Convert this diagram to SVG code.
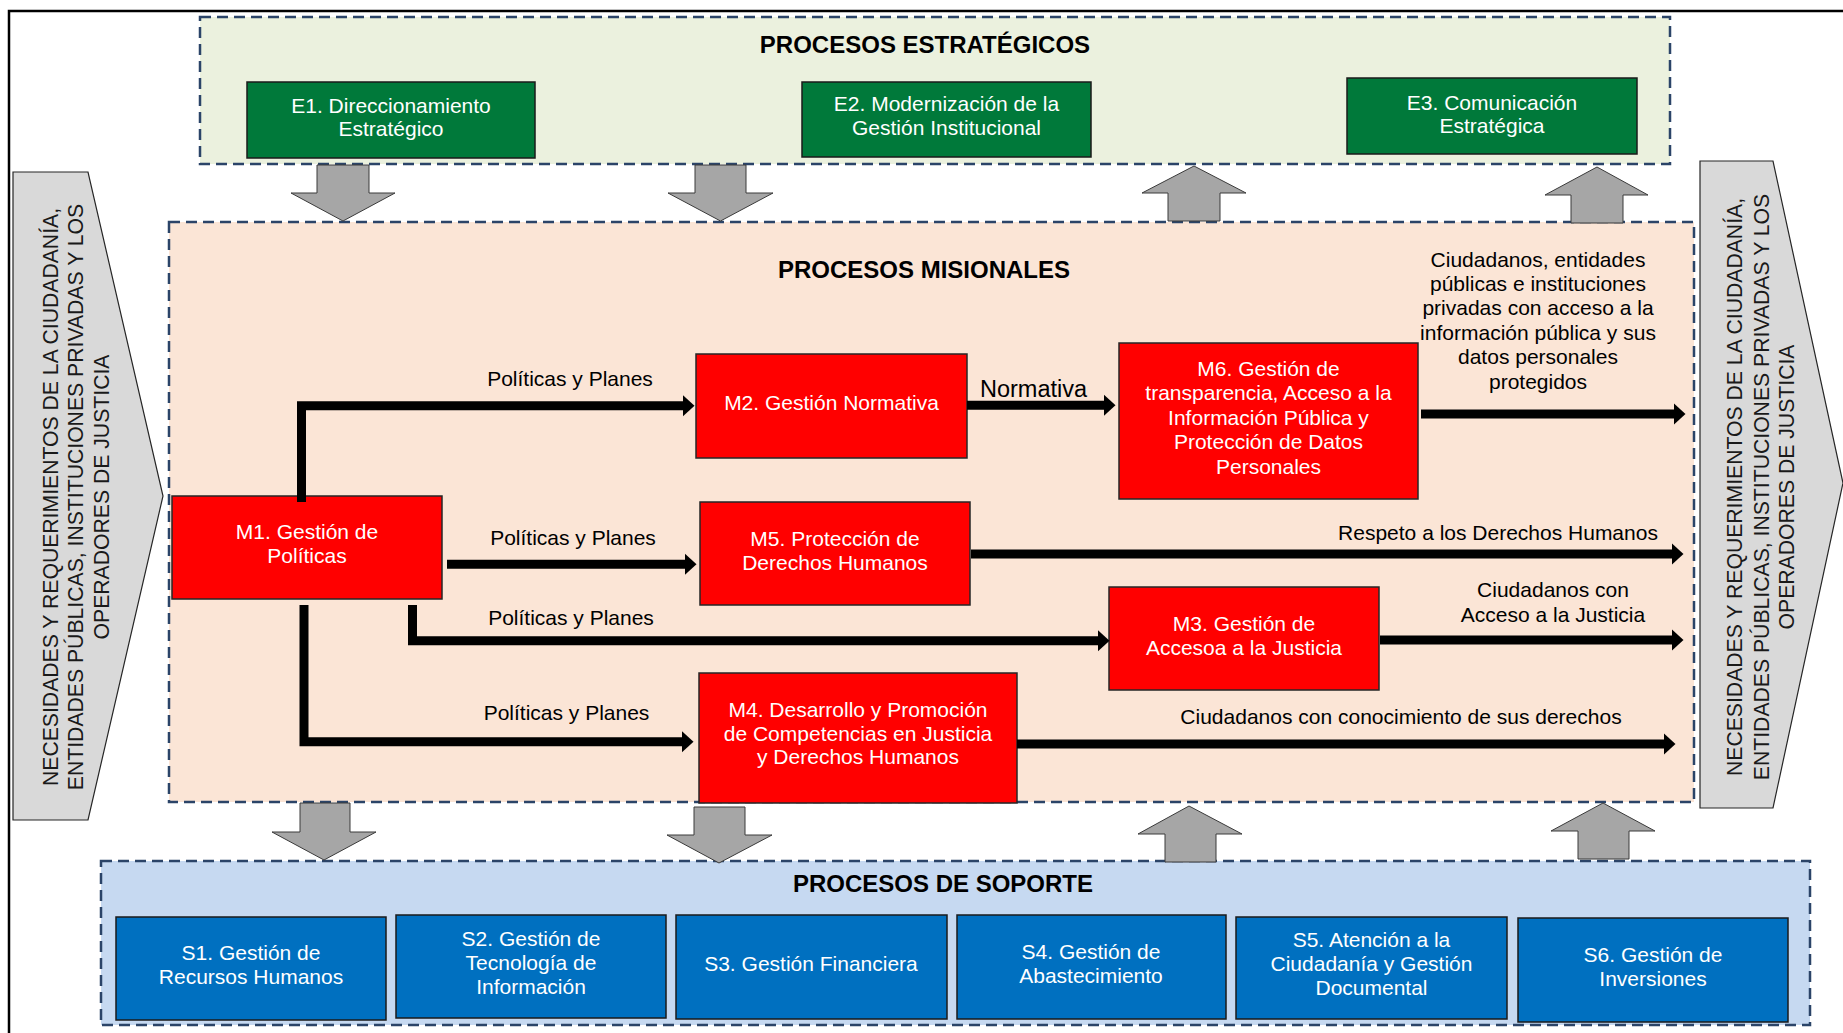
<svg xmlns="http://www.w3.org/2000/svg" width="1843" height="1033" viewBox="0 0 1843 1033">
  <style>
    text { font-family: "Liberation Sans", Arial, sans-serif; }
    .zone { stroke: #2B4468; stroke-width: 2.5; stroke-dasharray: 11 6; }
    .zone-e { fill: #EBF1DE; }
    .zone-m { fill: #FBE5D6; }
    .zone-s { fill: #C6D9F1; }
    .title { font-size: 24px; font-weight: bold; fill: #000; text-anchor: middle; }
    .box-e { fill: #00793A; stroke: #1A1A1A; stroke-width: 1.5; }
    .box-m { fill: #FF0000; stroke: #262626; stroke-width: 1.5; }
    .box-s { fill: #0070C0; stroke: #1A1A1A; stroke-width: 1.5; }
    .t-box { font-size: 21px; fill: #FFFFFF; text-anchor: middle; }
    .t-lbl { font-size: 21px; fill: #000; text-anchor: middle; }
    .t-side { font-size: 21.2px; fill: #1A1A1A; text-anchor: middle; }
    .blk { fill: #A6A6A6; stroke: #3A3A3A; stroke-width: 1; }
    .side { fill: #D9D9D9; stroke: #262626; stroke-width: 1.2; }
    .conn { fill: none; stroke: #000; stroke-width: 9; stroke-linejoin: miter; marker-end: url(#ah); }
    .frame { stroke: #000; stroke-width: 2.5; fill: none; }
  </style>
  <defs>
    <marker id="ah" markerUnits="userSpaceOnUse" markerWidth="12" markerHeight="22" viewBox="0 0 12 22" refX="0.5" refY="11" orient="auto">
      <path d="M0,0 L12,11 L0,22 Z" fill="#000"/>
    </marker>
  </defs>

  <rect width="1843" height="1033" fill="#FFFFFF"/>
  <!-- page frame (top and left rule) -->
  <path class="frame" d="M1843,11 H9 V1033"/>

  <!-- zones -->
  <g id="zone-estrategicos">
    <rect class="zone zone-e" x="200" y="17" width="1470" height="147"/>
    <text class="title" x="925" y="53">PROCESOS ESTRATÉGICOS</text>
  </g>
  <g id="zone-misionales">
    <rect class="zone zone-m" x="169" y="222" width="1525" height="580"/>
    <text class="title" x="924" y="278">PROCESOS MISIONALES</text>
  </g>
  <g id="zone-soporte">
    <rect class="zone zone-s" x="101" y="861" width="1709" height="164"/>
    <text class="title" x="943" y="892">PROCESOS DE SOPORTE</text>
  </g>

  <!-- side input / output arrows -->
  <g id="entrada">
    <polygon class="side" points="13,172 88,172 163,496 88,820 13,820"/>
    <text class="t-side" transform="translate(57.5,497) rotate(-90)">NECESIDADES Y REQUERIMIENTOS DE LA CIUDADANÍA,</text>
    <text class="t-side" transform="translate(83,497) rotate(-90)">ENTIDADES PÚBLICAS, INSTITUCIONES PRIVADAS Y LOS</text>
    <text class="t-side" transform="translate(108.5,497) rotate(-90)">OPERADORES DE JUSTICIA</text>
  </g>
  <g id="salida">
    <polygon class="side" points="1700,161 1773,161 1843,483 1773,808 1700,808"/>
    <text class="t-side" transform="translate(1742,487) rotate(-90)">NECESIDADES Y REQUERIMIENTOS DE LA CIUDADANÍA,</text>
    <text class="t-side" transform="translate(1768.5,487) rotate(-90)">ENTIDADES PÚBLICAS, INSTITUCIONES PRIVADAS Y LOS</text>
    <text class="t-side" transform="translate(1794,487) rotate(-90)">OPERADORES DE JUSTICIA</text>
  </g>

  <!-- block arrows between zones -->
  <g id="flechas-zonas">
    <polygon class="blk" points="317,165 369,165 369,193 395,193 343,221 291,193 317,193"/>
    <polygon class="blk" points="695,165 746,165 746,193 773,193 720.5,221 668,193 695,193"/>
    <polygon class="blk" points="1168,221 1220,221 1220,193 1246,193 1194,166 1142,193 1168,193"/>
    <polygon class="blk" points="1571,223 1623,223 1623,195 1648,195 1597,167 1545,195 1571,195"/>
    <polygon class="blk" points="300,803 350,803 350,832 376,832 324,860 272,832 300,832"/>
    <polygon class="blk" points="694,807 745,807 745,835 772,835 719,863 667,835 694,835"/>
    <polygon class="blk" points="1165,862 1216,862 1216,834 1242,834 1189,806 1138,834 1165,834"/>
    <polygon class="blk" points="1578,859 1629,859 1629,831 1655,831 1603,803 1551,831 1578,831"/>
  </g>

  <!-- strategic processes -->
  <g id="E1">
    <rect class="box-e" x="247" y="82" width="288" height="76"/>
    <text class="t-box" x="391" y="113">E1. Direccionamiento</text>
    <text class="t-box" x="391" y="136">Estratégico</text>
  </g>
  <g id="E2">
    <rect class="box-e" x="802" y="82" width="289" height="75"/>
    <text class="t-box" x="946.5" y="111">E2. Modernización de la</text>
    <text class="t-box" x="946.5" y="135">Gestión Institucional</text>
  </g>
  <g id="E3">
    <rect class="box-e" x="1347" y="78" width="290" height="76"/>
    <text class="t-box" x="1492" y="110">E3. Comunicación</text>
    <text class="t-box" x="1492" y="133">Estratégica</text>
  </g>

  <!-- missional processes -->
  <g id="M1">
    <rect class="box-m" x="172" y="496" width="270" height="103"/>
    <text class="t-box" x="307" y="539">M1. Gestión de</text>
    <text class="t-box" x="307" y="563">Políticas</text>
  </g>
  <g id="M2">
    <rect class="box-m" x="696" y="354" width="271" height="104"/>
    <text class="t-box" x="831.5" y="410">M2. Gestión Normativa</text>
  </g>
  <g id="M5">
    <rect class="box-m" x="700" y="502" width="270" height="103"/>
    <text class="t-box" x="835" y="546">M5. Protección de</text>
    <text class="t-box" x="835" y="570">Derechos Humanos</text>
  </g>
  <g id="M6">
    <rect class="box-m" x="1119" y="343" width="299" height="156"/>
    <text class="t-box" x="1268.5" y="375.7">M6. Gestión de</text>
    <text class="t-box" x="1268.5" y="400.4">transparencia, Acceso a la</text>
    <text class="t-box" x="1268.5" y="424.9">Información Pública y</text>
    <text class="t-box" x="1268.5" y="449.4">Protección de Datos</text>
    <text class="t-box" x="1268.5" y="473.8">Personales</text>
  </g>
  <g id="M3">
    <rect class="box-m" x="1109" y="587" width="270" height="103"/>
    <text class="t-box" x="1244" y="630.7">M3. Gestión de</text>
    <text class="t-box" x="1244" y="655">Accesoa a la Justicia</text>
  </g>
  <g id="M4">
    <rect class="box-m" x="699" y="673" width="318" height="130"/>
    <text class="t-box" x="858" y="716.7">M4. Desarrollo y Promoción</text>
    <text class="t-box" x="858" y="741.2">de Competencias en Justicia</text>
    <text class="t-box" x="858" y="764">y Derechos Humanos</text>
  </g>

  <!-- support processes -->
  <g id="S1">
    <rect class="box-s" x="116" y="917" width="270" height="103"/>
    <text class="t-box" x="251" y="960">S1. Gestión de</text>
    <text class="t-box" x="251" y="984">Recursos Humanos</text>
  </g>
  <g id="S2">
    <rect class="box-s" x="396" y="915" width="270" height="103"/>
    <text class="t-box" x="531" y="946">S2. Gestión de</text>
    <text class="t-box" x="531" y="970">Tecnología de</text>
    <text class="t-box" x="531" y="993.5">Información</text>
  </g>
  <g id="S3">
    <rect class="box-s" x="676" y="915" width="271" height="104"/>
    <text class="t-box" x="811" y="970.5">S3. Gestión Financiera</text>
  </g>
  <g id="S4">
    <rect class="box-s" x="957" y="915" width="269" height="104"/>
    <text class="t-box" x="1091" y="959.3">S4. Gestión de</text>
    <text class="t-box" x="1091" y="983.3">Abastecimiento</text>
  </g>
  <g id="S5">
    <rect class="box-s" x="1236" y="917" width="271" height="102"/>
    <text class="t-box" x="1371.5" y="946.7">S5. Atención a la</text>
    <text class="t-box" x="1371.5" y="971">Ciudadanía y Gestión</text>
    <text class="t-box" x="1371.5" y="995">Documental</text>
  </g>
  <g id="S6">
    <rect class="box-s" x="1518" y="918" width="270" height="104"/>
    <text class="t-box" x="1653" y="961.7">S6. Gestión de</text>
    <text class="t-box" x="1653" y="985.7">Inversiones</text>
  </g>

  <!-- connectors between missional processes -->
  <g id="connectors">
    <path class="conn" d="M301.5,502 V405.7 H683"/>
    <path class="conn" d="M447,564.3 H685"/>
    <path class="conn" d="M412.5,605 V640.7 H1098"/>
    <path class="conn" d="M304,605 V741.7 H682"/>
    <path class="conn" d="M967,405.3 H1104"/>
    <path class="conn" d="M1421,414 H1674"/>
    <path class="conn" d="M971,554 H1672"/>
    <path class="conn" d="M1380,640 H1672"/>
    <path class="conn" d="M1017,744 H1664"/>

    <text class="t-lbl" x="570" y="385.7">Políticas y Planes</text>
    <text class="t-lbl" x="573" y="545">Políticas y Planes</text>
    <text class="t-lbl" x="571" y="625">Políticas y Planes</text>
    <text class="t-lbl" x="566.5" y="720">Políticas y Planes</text>
    <text class="t-lbl" x="1033.5" y="396.7" style="font-size:23.5px">Normativa</text>

    <text class="t-lbl" x="1538" y="266.5">Ciudadanos, entidades</text>
    <text class="t-lbl" x="1538" y="290.9">públicas e instituciones</text>
    <text class="t-lbl" x="1538" y="315.3">privadas con acceso a la</text>
    <text class="t-lbl" x="1538" y="339.7">información pública y sus</text>
    <text class="t-lbl" x="1538" y="364.1">datos personales</text>
    <text class="t-lbl" x="1538" y="388.5">protegidos</text>

    <text class="t-lbl" x="1498" y="539.5">Respeto a los Derechos Humanos</text>
    <text class="t-lbl" x="1553" y="597.3">Ciudadanos con</text>
    <text class="t-lbl" x="1553" y="622.3">Acceso a la Justicia</text>
    <text class="t-lbl" x="1401" y="724.3">Ciudadanos con conocimiento de sus derechos</text>
  </g>
</svg>
